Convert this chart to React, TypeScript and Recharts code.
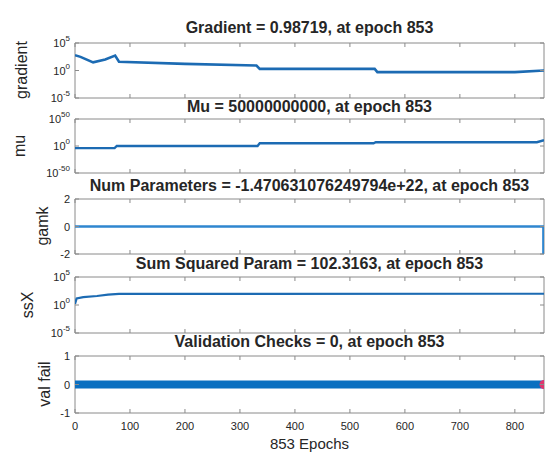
import React from 'react';
import { ComposedChart, Line, XAxis, YAxis, ReferenceArea, Scatter } from 'recharts';

// ---------- data ----------
const epochTicks = [0, 100, 200, 300, 400, 500, 600, 700, 800];
const maxEpoch = 853;

const gradientEpochs = [0, 10, 33, 55, 73, 80, 200, 330, 336, 545, 550, 800, 853];
const gradientValues = [600, 300, 30, 100, 500, 40, 16, 8, 2, 2, 0.5, 0.5, 0.98719];

const muEpochs = [0, 72, 76, 332, 336, 543, 547, 840, 853];
const muValues = [1e-4, 1e-4, 1, 1, 1e5, 1e5, 1e7, 1e7, 5e10];

const gamkEpochs = [0, 852, 853];
const gamkValues = [0, 0, -1.470631076249794e22];

const ssxEpochs = [0, 3, 15, 40, 60, 80, 853];
const ssxValues = [1.5, 15, 25, 40, 70, 100, 102.3163];

const valFailEpochs = [0, 853];
const valFailValues = [0, 0];
const bestEpochs = [853];
const bestValues = [0];

const titles = [
  'Gradient = 0.98719, at epoch 853',
  'Mu = 50000000000, at epoch 853',
  'Num Parameters = -1.470631076249794e+22, at epoch 853',
  'Sum Squared Param = 102.3163, at epoch 853',
  'Validation Checks = 0, at epoch 853',
];
const yLabels = ['gradient', 'mu', 'gamk', 'ssX', 'val fail'];
const xLabel = '853 Epochs';

const logTicks5 = [1e-5, 1, 1e5];
const logTicks50 = [1e-50, 1, 1e50];
const linTicks2 = [-2, 0, 2];
const linTicks1 = [-1, 0, 1];

// ---------- helpers ----------
const toPts = (e: number[], v: number[]) => e.map((x, i) => ({ epoch: x, value: v[i] }));

const FONT = '"Liberation Sans", Arial, Helvetica, sans-serif';
const BORDER = '#8a8a8a';
const TEXT = '#262626';
const PLOT_L = 75;
const PLOT_R = 544;
const PLOT_W = PLOT_R - PLOT_L;
const W = 547;
const MT = 10;

const YTick = (props: any) => {
  const { x, y, payload, log } = props;
  const v = payload.value;
  let label: any = String(v);
  if (log) {
    const exp = Math.round(Math.log10(v));
    label = (
      <>
        <tspan>10</tspan>
        <tspan dy={-6} fontSize={8}>{String(exp)}</tspan>
      </>
    );
  }
  return (
    <g>
      <line x1={x} x2={x + 4} y1={y} y2={y} stroke={BORDER} />
      <line x1={x + PLOT_W} x2={x + PLOT_W - 4} y1={y} y2={y} stroke={BORDER} />
      <text x={x - 5} y={y} dy={4} textAnchor="end" fontSize={11} fill={TEXT} fontFamily={FONT}>
        {label}
      </text>
    </g>
  );
};

const XTick = (props: any) => {
  const { x, y, payload, plotH, showLabel } = props;
  return (
    <g>
      <line x1={x} x2={x} y1={y} y2={y - 4} stroke={BORDER} />
      <line x1={x} x2={x} y1={y - plotH} y2={y - plotH + 4} stroke={BORDER} />
      {showLabel && (
        <text x={x} y={y + 17} textAnchor="middle" fontSize={11} fill={TEXT} fontFamily={FONT}>
          {payload.value}
        </text>
      )}
    </g>
  );
};

type PanelProps = {
  top: number;
  h: number;
  log: boolean;
  domain: [number, number];
  ticks: number[];
  series: { epoch: number; value: number }[];
  color: string;
  sw: number;
  showX?: boolean;
  best?: { epoch: number; value: number }[];
};

const Panel = ({ top, h, log, domain, ticks, series, color, sw, showX, best }: PanelProps) => {
  const xh = showX ? 30 : 10;
  return (
    <div style={{ position: 'absolute', left: 0, top: top - MT }}>
      <ComposedChart width={W} height={h + MT + xh} margin={{ top: MT, right: W - PLOT_R, bottom: 0, left: 0 }}>
        <XAxis
          type="number"
          dataKey="epoch"
          domain={[0, maxEpoch]}
          ticks={epochTicks}
          interval={0}
          allowDataOverflow
          height={xh}
          tickSize={0}
          tickMargin={0}
          tickLine={false}
          axisLine={false}
          tick={(p: any) => <XTick {...p} plotH={h} showLabel={!!showX} />}
        />
        <YAxis
          type="number"
          scale={log ? 'log' : 'linear'}
          domain={domain}
          ticks={ticks}
          interval={0}
          allowDataOverflow
          width={PLOT_L}
          tickSize={0}
          tickMargin={0}
          tickLine={false}
          axisLine={false}
          tick={(p: any) => <YTick {...p} log={log} />}
        />
        <Line
          data={series}
          dataKey="value"
          type="linear"
          stroke={color}
          strokeWidth={sw}
          dot={false}
          isAnimationActive={false}
        />
        {best && (
          <Scatter data={best} dataKey="value" fill="#e0356e" isAnimationActive={false} />
        )}
        <ReferenceArea
          x1={0}
          x2={maxEpoch}
          y1={domain[0]}
          y2={domain[1]}
          fill="none"
          fillOpacity={0}
          stroke={BORDER}
          strokeWidth={1}
          ifOverflow="visible"
        />
      </ComposedChart>
    </div>
  );
};

const panelTops = [43, 119, 199, 277, 356];
const panelHeights = [55, 54, 55, 56, 57];
const titleCenters = [28, 107, 186, 264, 342];
const yLabelPos = [
  [22, 70],
  [20, 146],
  [43, 226],
  [28, 305],
  [45, 384],
];

export default function App() {
  return (
    <div
      style={{
        position: 'absolute',
        left: 0,
        top: 0,
        width: W,
        height: 452,
        background: '#fff',
        fontFamily: FONT,
        color: TEXT,
        overflow: 'hidden',
      }}
    >
      <Panel top={panelTops[0]} h={panelHeights[0]} log domain={[1e-5, 1e5]} ticks={logTicks5}
        series={toPts(gradientEpochs, gradientValues)} color="#1c6bb3" sw={2.6} />
      <Panel top={panelTops[1]} h={panelHeights[1]} log domain={[1e-50, 1e50]} ticks={logTicks50}
        series={toPts(muEpochs, muValues)} color="#1c6bb3" sw={2.4} />
      <Panel top={panelTops[2]} h={panelHeights[2]} log={false} domain={[-2, 2]} ticks={linTicks2}
        series={toPts(gamkEpochs, gamkValues)} color="#2f86cf" sw={2.6} />
      <Panel top={panelTops[3]} h={panelHeights[3]} log domain={[1e-5, 1e5]} ticks={logTicks5}
        series={toPts(ssxEpochs, ssxValues)} color="#1c6bb3" sw={2.2} />
      <Panel top={panelTops[4]} h={panelHeights[4]} log={false} domain={[-1, 1]} ticks={linTicks1}
        series={toPts(valFailEpochs, valFailValues)} color="#0a6fc0" sw={8} showX
        best={toPts(bestEpochs, bestValues)} />

      {titles.map((t, i) => (
        <div
          key={t}
          style={{
            position: 'absolute',
            left: PLOT_L - 40,
            width: PLOT_W + 80,
            top: titleCenters[i] - 10,
            height: 20,
            lineHeight: '20px',
            textAlign: 'center',
            fontWeight: 'bold',
            fontSize: 16,
            whiteSpace: 'nowrap',
          }}
        >
          {t}
        </div>
      ))}

      {yLabels.map((t, i) => (
        <div
          key={t}
          style={{
            position: 'absolute',
            left: yLabelPos[i][0],
            top: yLabelPos[i][1],
            transform: 'translate(-50%, -50%) rotate(-90deg)',
            fontSize: 16,
            lineHeight: '18px',
            whiteSpace: 'nowrap',
          }}
        >
          {t}
        </div>
      ))}

      <div
        style={{
          position: 'absolute',
          left: PLOT_L,
          width: PLOT_W,
          top: 436,
          height: 16,
          lineHeight: '16px',
          textAlign: 'center',
          fontSize: 15,
        }}
      >
        {xLabel}
      </div>
    </div>
  );
}
